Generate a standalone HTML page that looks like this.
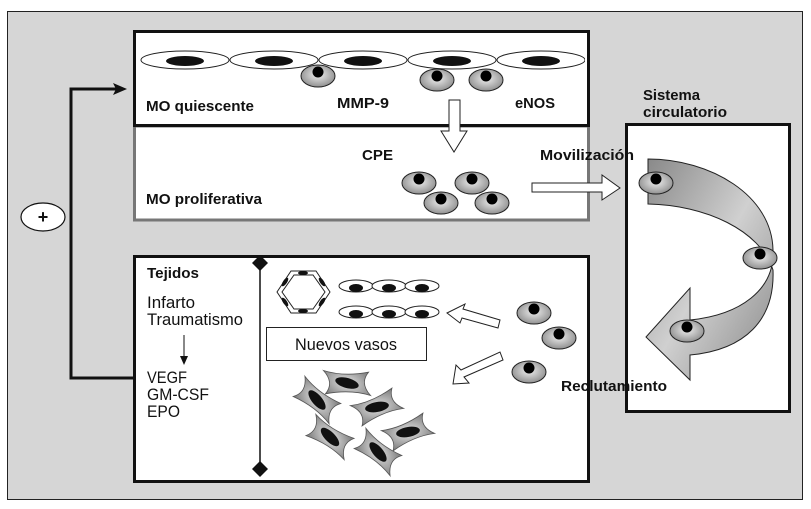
<!DOCTYPE html>
<html><head><meta charset="utf-8"><style>
html,body{margin:0;padding:0;background:#fff;}
svg{display:block;}
.b{font-family:"Liberation Sans Narrow","Liberation Sans",sans-serif;font-weight:bold;font-size:15px;fill:#111;}
.n{font-family:"Liberation Sans Narrow","Liberation Sans",sans-serif;font-size:17px;fill:#111;}
</style></head><body>
<svg width="811" height="509" viewBox="0 0 811 509" xmlns="http://www.w3.org/2000/svg">
<defs>
<radialGradient id="g1" cx="0.5" cy="0.45" r="0.6"><stop offset="0" stop-color="#eee"/><stop offset="1" stop-color="#888"/></radialGradient>
<radialGradient id="g2" cx="0.5" cy="0.5" r="0.6"><stop offset="0" stop-color="#e4e4e4"/><stop offset="1" stop-color="#777"/></radialGradient>
<linearGradient id="ga" x1="0" y1="0" x2="1" y2="1"><stop offset="0" stop-color="#888"/><stop offset="0.5" stop-color="#d0d0d0"/><stop offset="1" stop-color="#888"/></linearGradient>
<g id="pc"><ellipse cx="0" cy="0" rx="17" ry="11" fill="url(#g1)" stroke="#222" stroke-width="1"/><circle cx="0" cy="-4" r="5.5" fill="#000"/></g>
<g id="ec"><ellipse cx="0" cy="0" rx="44" ry="9" fill="#fff" stroke="#222" stroke-width="1"/><ellipse cx="0" cy="1" rx="19" ry="5" fill="#111"/></g>
<g id="sc"><ellipse cx="0" cy="0" rx="17" ry="6" fill="#fff" stroke="#222" stroke-width="1"/><ellipse cx="0" cy="2" rx="7" ry="4" fill="#111"/></g>
<g id="st"><path d="M-26,-6 Q-5,-5 18,-16 Q12,-3 26,6 Q5,5 -18,16 Q-12,3 -26,-6Z" fill="url(#g2)" stroke="#555" stroke-width="0.8"/><ellipse cx="0" cy="0" rx="12" ry="5" fill="#111"/></g>
</defs>
<rect x="7.5" y="11.5" width="795" height="488" fill="#d6d6d6" stroke="#222" stroke-width="1"/>
<path d="M133,378 H71 V89 H118" fill="none" stroke="#111" stroke-width="3"/>
<path d="M127,89 L113,83 L116,89 L113,95Z" fill="#111"/>
<ellipse cx="43" cy="217" rx="22" ry="14" fill="#fff" stroke="#111" stroke-width="1.2"/>
<text x="43" y="223" text-anchor="middle" class="b" style="font-size:18px">+</text>
<rect x="134.5" y="126" width="454" height="94" fill="#fff" stroke="#777" stroke-width="3"/>
<rect x="134.5" y="31.5" width="454" height="94" fill="#fff" stroke="#111" stroke-width="3"/>
<use href="#ec" x="185" y="60"/><use href="#ec" x="274" y="60"/><use href="#ec" x="363" y="60"/><use href="#ec" x="452" y="60"/><use href="#ec" x="541" y="60"/>
<rect x="136" y="48" width="3" height="24" fill="#fff"/>
<rect x="585" y="48" width="2" height="24" fill="#fff"/>
<use href="#pc" x="318" y="76"/><use href="#pc" x="437" y="80"/><use href="#pc" x="486" y="80"/>
<text x="146" y="111" class="b" textLength="108" lengthAdjust="spacingAndGlyphs">MO quiescente</text>
<text x="337" y="108" class="b" textLength="52" lengthAdjust="spacingAndGlyphs">MMP-9</text>
<text x="515" y="108" class="b" textLength="40" lengthAdjust="spacingAndGlyphs">eNOS</text>
<text x="362" y="160" class="b" textLength="31" lengthAdjust="spacingAndGlyphs">CPE</text>
<text x="146" y="204" class="b" textLength="116" lengthAdjust="spacingAndGlyphs">MO proliferativa</text>
<path d="M449,100 H460 V131 H467 L454,152 L441,131 H449Z" fill="#fff" stroke="#222" stroke-width="1"/>
<use href="#pc" x="419" y="183"/><use href="#pc" x="472" y="183"/><use href="#pc" x="441" y="203"/><use href="#pc" x="492" y="203"/>
<rect x="626.5" y="124.5" width="163" height="287" fill="#fff" stroke="#111" stroke-width="3"/>
<text x="643" y="100" class="b" textLength="57" lengthAdjust="spacingAndGlyphs">Sistema</text>
<text x="643" y="117" class="b" textLength="84" lengthAdjust="spacingAndGlyphs">circulatorio</text>
<path d="M532,183 H602 V175 L620,188 L602,200 V192 H532Z" fill="#fff" stroke="#222" stroke-width="1"/>
<path d="M648,159 C710,159 772,195 773,250 C775,290 740,315 690,320 V288 L646,337 L690,380 V355 C745,350 775,320 773,270 C760,230 705,205 648,204Z" fill="url(#ga)" stroke="#222" stroke-width="1"/>
<use href="#pc" x="656" y="183"/><use href="#pc" x="760" y="258"/><use href="#pc" x="687" y="331"/>
<rect x="134.5" y="256.5" width="454" height="225" fill="#fff" stroke="#111" stroke-width="3"/>
<text x="540" y="160" class="b" textLength="94" lengthAdjust="spacingAndGlyphs">Movilización</text>
<text x="561" y="391" class="b" textLength="106" lengthAdjust="spacingAndGlyphs">Reclutamiento</text>
<line x1="260" y1="262" x2="260" y2="469" stroke="#111" stroke-width="1.5"/>
<path d="M260,255 L268,263 L260,271 L252,263Z" fill="#111"/>
<path d="M260,461 L268,469 L260,477 L252,469Z" fill="#111"/>
<text x="147" y="278" class="b" textLength="52" lengthAdjust="spacingAndGlyphs">Tejidos</text>
<text x="147" y="308" class="n" textLength="48" lengthAdjust="spacingAndGlyphs">Infarto</text>
<text x="147" y="325" class="n" textLength="96" lengthAdjust="spacingAndGlyphs">Traumatismo</text>
<line x1="184" y1="335" x2="184" y2="360" stroke="#111" stroke-width="1"/>
<path d="M184,365 L180,356 L188,356Z" fill="#111"/>
<text x="147" y="383" class="n" textLength="40" lengthAdjust="spacingAndGlyphs">VEGF</text>
<text x="147" y="400" class="n" textLength="62" lengthAdjust="spacingAndGlyphs">GM-CSF</text>
<text x="147" y="417" class="n" textLength="33" lengthAdjust="spacingAndGlyphs">EPO</text>
<g fill="none" stroke="#222" stroke-width="1">
<path d="M291,271 L316,271 L330,292 L316,313 L291,313 L277,292Z"/>
<path d="M294,275 L313,275 L325,292 L313,309 L294,309 L282,292Z"/>
</g>
<g fill="#111"><ellipse cx="303" cy="273" rx="5" ry="2"/><ellipse cx="303" cy="311" rx="5" ry="2"/><ellipse cx="285" cy="282" rx="2" ry="5" transform="rotate(35 285 282)"/><ellipse cx="322" cy="282" rx="2" ry="5" transform="rotate(-35 322 282)"/><ellipse cx="285" cy="302" rx="2" ry="5" transform="rotate(-35 285 302)"/><ellipse cx="322" cy="302" rx="2" ry="5" transform="rotate(35 322 302)"/></g>
<use href="#sc" x="356" y="286"/><use href="#sc" x="389" y="286"/><use href="#sc" x="422" y="286"/>
<use href="#sc" x="356" y="312"/><use href="#sc" x="389" y="312"/><use href="#sc" x="422" y="312"/>
<rect x="266.5" y="327.5" width="160" height="33" fill="#fff" stroke="#222" stroke-width="1"/>
<text x="346" y="350" text-anchor="middle" class="n" textLength="102" lengthAdjust="spacingAndGlyphs">Nuevos vasos</text>
<path d="M447,313 L465,304 L463,309 L500,320 L498,328 L462,318 L460,323Z" fill="#fff" stroke="#222" stroke-width="1"/>
<path d="M453,384 L456,365 L461,370 L500,352 L503,360 L464,377 L469,383Z" fill="#fff" stroke="#222" stroke-width="1"/>
<use href="#pc" x="534" y="313"/><use href="#pc" x="559" y="338"/><use href="#pc" x="529" y="372"/>
<use href="#st" transform="translate(347,383) rotate(15)"/>
<use href="#st" transform="translate(317,400) rotate(50)"/>
<use href="#st" transform="translate(377,407) rotate(-10)"/>
<use href="#st" transform="translate(330,437) rotate(45)"/>
<use href="#st" transform="translate(408,432) rotate(-10)"/>
<use href="#st" transform="translate(378,452) rotate(50)"/>
</svg>
</body></html>
